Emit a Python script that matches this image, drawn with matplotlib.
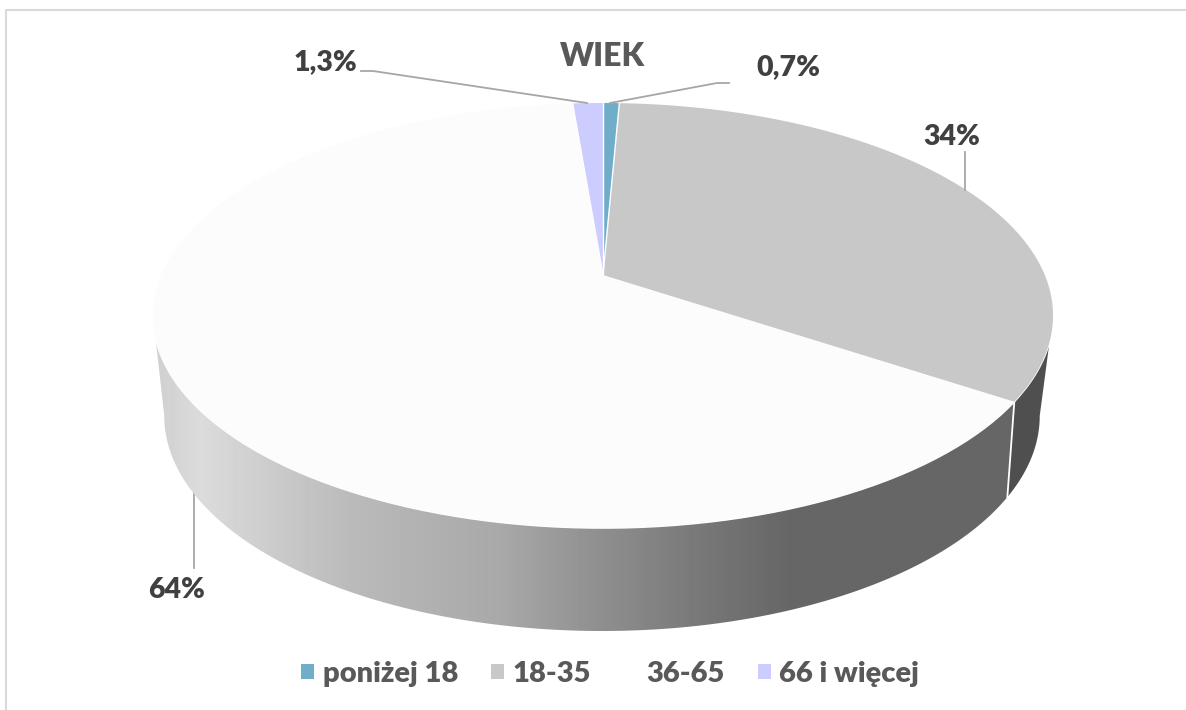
import numpy as np
import matplotlib
matplotlib.use('Agg')
import matplotlib.pyplot as plt
from matplotlib.patches import Patch, Polygon

categories = ['poniżej 18', '18-35', '36-65', '66 i więcej']
values = [0.7, 33.6, 64.4, 1.3]
value_labels = ['0,7%', '34%', '64%', '1,3%']
colors = ['#6fadca', '#c8c8c8', '#fcfcfc', '#ccccff']
legend_colors = ['#6fadca', '#c8c8c8', '#ffffff', '#ccccff']

plt.rcParams['font.family'] = ['Lato', 'DejaVu Sans']

fig = plt.figure(figsize=(11.86, 7.10), dpi=100)
ax = fig.add_axes([0, 0, 1, 1])
ax.set_xlim(0, 1186)
ax.set_ylim(710, 0)
ax.axis('off')


# perspective view of the pie disc: angle in degrees, clockwise from the top
def rim(angle, cx, cy, r, a, p):
    t = np.radians(angle)
    u, v = np.sin(t), np.cos(t)
    w = 1 + p * v
    return cx + a * u / w, cy - (r * v + r * p) / w


def top(angle):
    return rim(angle, 603, 315.5, 212.5, 442, 0.188)


def bottom(angle):
    return rim(angle, 602, 416, 215, 427, 0.22)


edges = np.concatenate([[0], np.cumsum(values)]) * 3.6

# side walls, the ends sit where the outline is widest
grad_x = [163, 200, 350, 500, 600, 700, 790, 1010]
grad_v = [0.82, 0.86, 0.73, 0.66, 0.56, 0.47, 0.40, 0.40]
gradient = np.interp(np.arange(150, 1060), grad_x, grad_v)[None, :]

xt, yt = top(np.linspace(edges[2], 259.2, 200))
xb, yb = bottom(np.linspace(edges[2], 257.3, 200))
wall = Polygon(np.r_[np.c_[xt, yt], np.c_[xb, yb][::-1]], closed=True, fc='none', ec='none')
ax.add_patch(wall)
img = ax.imshow(gradient, cmap='gray', vmin=0, vmax=1, extent=(150, 1060, 660, 300), aspect='auto', zorder=1)
img.set_clip_path(wall)
ax.set_xlim(0, 1186)
ax.set_ylim(710, 0)

xt, yt = top(np.linspace(100.8, edges[2], 60))
xb, yb = bottom(np.linspace(102.7, edges[2], 60))
ax.fill(np.r_[xt, xb[::-1]], np.r_[yt, yb[::-1]], color='#4f4f4f', lw=0, zorder=1.5)
ax.plot([xt[-1], xb[-1]], [yt[-1], yb[-1]], color='white', lw=1.3, zorder=2)

# white rim along the walls, then the top slices
ang = np.linspace(0, 360, 400)
ax.plot(*top(ang), color='white', lw=1.2, zorder=2.2)
for i in [2, 1, 0, 3]:
    ang = np.linspace(edges[i], edges[i + 1], 200)
    x, y = top(ang)
    ax.fill(np.r_[603, x], np.r_[275, y], color=colors[i], zorder=3, lw=0)
for i in [0, 1, 3]:
    x, y = top(np.array([edges[i]]))
    ax.plot([603, x[0]], [275, y[0]], color='white', lw=1.0, zorder=4)

# leader lines and labels
leader = '#a6a6a6'
ax.plot([610, 717, 729], [103, 83, 83], color=leader, lw=1.3, zorder=5)
ax.plot([361, 373, 587], [71, 71, 103], color=leader, lw=1.3, zorder=5)
ax.plot([965, 965], [190, 152], color=leader, lw=1.3, zorder=5)
ax.plot([194, 194], [490, 568], color=leader, lw=1.3, zorder=0.5)

label_pos = [(788, 67), (952, 137), (177, 590), (325, 62)]
for txt, (lx, ly) in zip(value_labels, label_pos):
    ax.text(lx, ly, txt, ha='center', va='center', fontsize=20.5, color='#404040', fontweight='heavy')
ax.text(603, 57, 'WIEK', ha='center', va='center', fontsize=23, color='#595959', fontweight='heavy')

# outer frame, only top and left are there
ax.plot([6, 6, 1186], [710, 10, 10], color='#d9d9d9', lw=1.5)

handles = [Patch(fc=c, ec='none') for c in legend_colors]
ax.legend(handles, categories, loc='center', bbox_to_anchor=(610 / 1186, 1 - 674 / 710), ncol=4,
          frameon=False, prop={'size': 21, 'weight': 'heavy'}, labelcolor='#595959',
          handlelength=0.45, handleheight=0.45, handletextpad=0.30, columnspacing=1.13, borderpad=0)

fig.savefig('out.png', dpi=100)
